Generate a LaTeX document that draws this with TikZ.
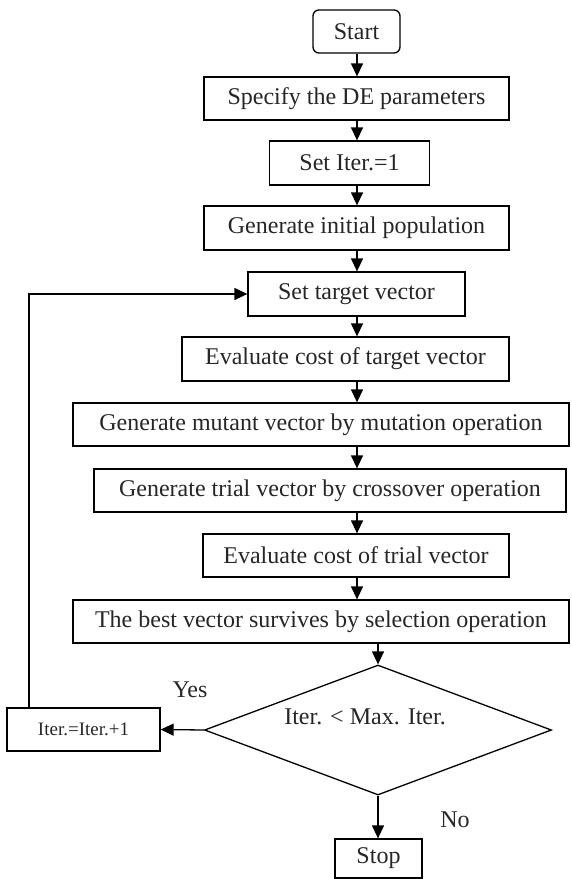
\documentclass[tikz,border=0pt]{standalone}
\usepackage{fontspec}
\setmainfont{Liberation Serif}
\usetikzlibrary{arrows.meta,shapes.geometric}
\begin{document}
\begin{tikzpicture}[x=1pt,y=-1pt,
  box/.style={draw,line width=1.3pt,inner sep=0pt,font=\fontsize{24}{28}\selectfont,text=black!85},
  arr/.style={line width=1.3pt,-{Triangle[length=13pt,width=12pt]}},
  lbl/.style={font=\fontsize{24}{28}\selectfont,text=black!85}]
\useasboundingbox (0,0) rectangle (571,879);
\node[box,rounded corners=6pt,minimum width=87pt,minimum height=43pt] (start) at (356.5,31.5) {Start};
\node[box,minimum width=305pt,minimum height=43pt] (spec) at (356.5,98.5) {Specify the DE parameters};
\node[box,minimum width=160pt,minimum height=44pt] (iter1) at (349.5,163) {Set Iter.=1};
\node[box,minimum width=305pt,minimum height=44pt] (init) at (356.5,228) {Generate initial population};
\node[box,minimum width=217pt,minimum height=44pt] (target) at (356.5,294) {Set target vector};
\node[box,minimum width=327pt,minimum height=44pt] (evt) at (345.5,359) {Evaluate cost of target vector};
\node[box,minimum width=496pt,minimum height=43pt] (mut) at (321,424.5) {Generate mutant vector by mutation operation};
\node[box,minimum width=472pt,minimum height=43pt] (trial) at (330,490.5) {Generate trial vector by crossover operation};
\node[box,minimum width=306pt,minimum height=43pt] (evtr) at (356,555.5) {Evaluate cost of trial vector};
\node[box,minimum width=496pt,minimum height=43pt] (best) at (321,621.5) {The best vector survives by selection operation};
\node[draw,line width=1.3pt,diamond,inner sep=0pt,minimum width=347pt,minimum height=130pt] (dec) at (378,730) {};
\node[lbl] (dtext) at (365,717) {Iter. < Max. Iter.};
\node[box,minimum width=153pt,minimum height=43pt,font=\fontsize{19}{22}\selectfont] (inc) at (83.5,729.5) {Iter.=Iter.+1};
\node[box,minimum width=87pt,minimum height=39pt] (stop) at (378.5,858.5) {Stop};
\node[lbl] (yes) at (190,690) {Yes};
\node[lbl] (no) at (455,820) {No};
\coordinate (ax) at (357,0);
\coordinate (ax2) at (378,0);
\coordinate (lp) at (29,0);
\draw[arr] (ax |- start.south) -- (ax |- spec.north);
\draw[arr] (ax |- spec.south) -- (ax |- iter1.north);
\draw[arr] (ax |- iter1.south) -- (ax |- init.north);
\draw[arr] (ax |- init.south) -- (ax |- target.north);
\draw[arr] (ax |- target.south) -- (ax |- evt.north);
\draw[arr] (ax |- evt.south) -- (ax |- mut.north);
\draw[arr] (ax |- mut.south) -- (ax |- trial.north);
\draw[arr] (ax |- trial.south) -- (ax |- evtr.north);
\draw[arr] (ax |- evtr.south) -- (ax |- best.north);
\draw[arr] (ax2 |- best.south) -- (dec.north);
\draw[arr] (dec.south) -- (ax2 |- stop.north);
\draw[arr] (dec.west) -- (inc.east);
\draw[arr] (lp |- inc.north) -- (lp |- target.west) -- (target.west);
\end{tikzpicture}
\end{document}
